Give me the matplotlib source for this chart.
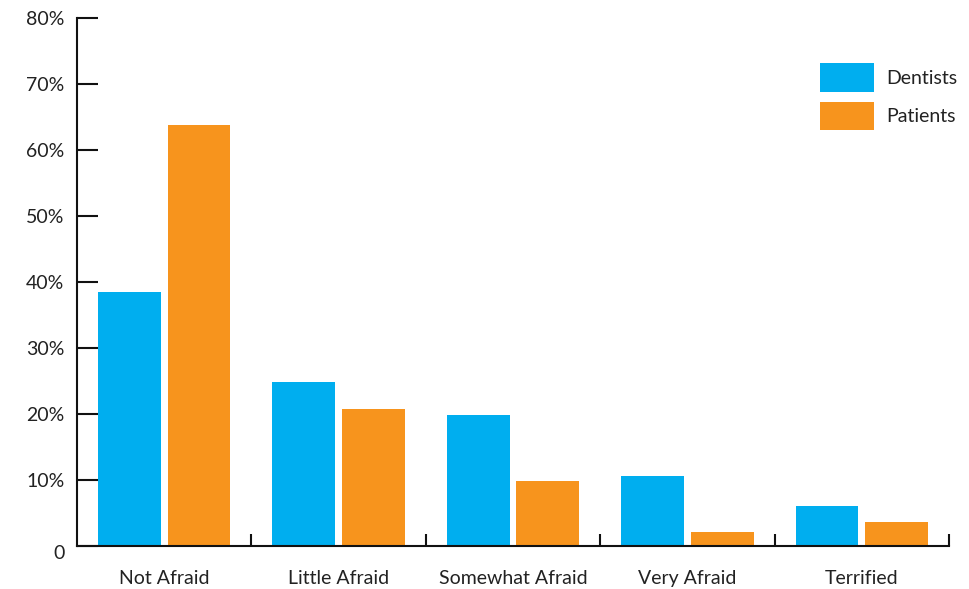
import matplotlib
matplotlib.use("Agg")
import matplotlib.pyplot as plt
import matplotlib.transforms as mtransforms
import numpy as np
from matplotlib.ticker import FixedLocator

categories = ["Not Afraid", "Little Afraid", "Somewhat Afraid", "Very Afraid", "Terrified"]
dentists = [38.5, 24.8, 19.8, 10.6, 6.1]
patients = [63.8, 20.8, 9.8, 2.1, 3.6]
y_ticks = [0, 10, 20, 30, 40, 50, 60, 70, 80]
y_labels = ["0", "10%", "20%", "30%", "40%", "50%", "60%", "70%", "80%"]

BLUE = "#00AEEF"
ORANGE = "#F7941D"
TEXT = "#222222"
FS = 14

plt.rcParams["font.family"] = ["Lato", "DejaVu Sans"]

fig = plt.figure(figsize=(9.69, 5.89), dpi=100)
ax = fig.add_axes([77 / 969, 43 / 589, 872 / 969, 528 / 589])

x = np.arange(len(categories))
w = 0.36
b1 = ax.bar(x - 0.2, dentists, width=w, color=BLUE, label="Dentists")
b2 = ax.bar(x + 0.2, patients, width=w, color=ORANGE, label="Patients")

ax.set_xlim(-0.5, len(categories) - 0.5)
ax.set_ylim(0, 80)

for s in ("top", "right"):
    ax.spines[s].set_visible(False)
for s in ("left", "bottom"):
    ax.spines[s].set_linewidth(1.5)
    ax.spines[s].set_color("#111111")

ax.set_yticks(y_ticks)
ax.set_yticklabels(y_labels)
ax.tick_params(axis="y", direction="in", length=15, width=1.5, pad=9,
               labelsize=FS, labelcolor=TEXT, color="#111111")
# nudge the zero label slightly below the baseline
zero_lbl = ax.get_yticklabels()[0]
zero_lbl.set_transform(zero_lbl.get_transform() +
                       mtransforms.ScaledTranslation(0, -6 / 100, fig.dpi_scale_trans))

ax.set_xticks(x)
ax.set_xticklabels(categories)
ax.tick_params(axis="x", which="major", length=0, pad=17, labelsize=FS, labelcolor=TEXT)
ax.xaxis.set_minor_locator(FixedLocator(np.arange(0.5, len(categories), 1.0)))
ax.tick_params(axis="x", which="minor", direction="in", length=9, width=1.5, color="#111111")

ax.legend(handles=[b1, b2], loc="upper left", bbox_to_anchor=(820 / 969, 1 - 63 / 589),
          bbox_transform=fig.transFigure, frameon=False, borderpad=0, borderaxespad=0,
          handlelength=2.8, handleheight=1.9, handletextpad=0.6, labelspacing=0.5,
          fontsize=FS, labelcolor=TEXT)

fig.savefig("out.png", dpi=100)
